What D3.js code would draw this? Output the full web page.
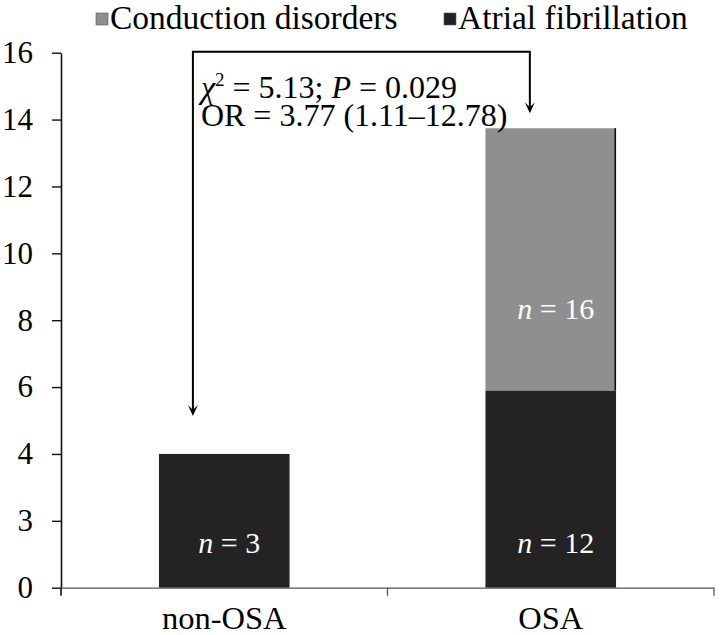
<!DOCTYPE html>
<html>
<head>
<meta charset="utf-8">
<script src="https://cdn.jsdelivr.net/npm/d3@7"></script>
<style>
  body { margin: 0; background: #fff; }
  svg { display: block; font-family: "Liberation Serif", "Times New Roman", serif; }
</style>
</head>
<body>
<div id="chartArea"></div>
<script>
// values
var categories = ['non-OSA', 'OSA'];
var atrialFibrillation = [4, 5.9];
var conductionDisorders = [0, 7.84];
var nAtrial = ['3', '12'];
var nConduction = ['', '16'];
var yTicks = [0, 2, 4, 6, 8, 10, 12, 14, 16];
var yTickLabels = ['0', '3', '4', '6', '8', '10', '12', '14', '16'];
var legendNames = ['Conduction disorders', 'Atrial fibrillation'];

var colors = {af: '#232323', cd: '#8f8f8f'};

var W = 722, H = 635;
var margin = {top: 52.7, left: 61, right: 8, bottom: 47.3};
var w = W - margin.left - margin.right,
    h = H - margin.top - margin.bottom;

var svg = d3.select('#chartArea').append('svg')
    .attr('width', W)
    .attr('height', H);

var g = svg.append('g')
    .attr('transform', 'translate(' + margin.left + ',' + margin.top + ')');

var x = d3.scaleBand()
    .domain(categories)
    .range([0, w])
    .paddingInner(0.6)
    .paddingOuter(0.3);

var y = d3.scaleLinear()
    .domain([0, 16])
    .range([h, 0]);

var rows = categories.map(function (c, i) {
    return {cat: c, af: atrialFibrillation[i], cd: conductionDisorders[i]};
});

var stack = d3.stack().keys(['af', 'cd'])(rows);

// bars
g.selectAll('g.layer')
    .data(stack)
    .enter()
    .append('g')
    .attr('class', 'layer')
    .attr('fill', function (d) { return colors[d.key]; })
    .selectAll('rect')
    .data(function (d) { return d; })
    .enter()
    .append('rect')
    .attr('x', function (d) { return x(d.data.cat); })
    .attr('y', function (d) { return y(d[1]); })
    .attr('width', x.bandwidth())
    .attr('height', function (d) { return y(d[0]) - y(d[1]); });

// dark edge on the right of the grey segment, as in the original
g.selectAll('line.edge')
    .data(stack[1].filter(function (d) { return d[1] > d[0]; }))
    .enter()
    .append('line')
    .attr('class', 'edge')
    .attr('x1', function (d) { return x(d.data.cat) + x.bandwidth() - 0.8; })
    .attr('x2', function (d) { return x(d.data.cat) + x.bandwidth() - 0.8; })
    .attr('y1', function (d) { return y(d[1]); })
    .attr('y2', function (d) { return y(d[0]); })
    .attr('stroke', '#111')
    .attr('stroke-width', 1.6);

// n labels inside bars
var labelOffsets = {af: 35, cd: 71};
var labelTexts = {af: nAtrial, cd: nConduction};
stack.forEach(function (layer) {
    layer.forEach(function (d, i) {
        var t = labelTexts[layer.key][i];
        if (!t) return;
        var txt = g.append('text')
            .attr('x', x(d.data.cat) + x.bandwidth() / 2 + 5)
            .attr('y', y(d[0]) - labelOffsets[layer.key])
            .attr('text-anchor', 'middle')
            .attr('fill', '#fff')
            .style('font-size', '30px');
        txt.append('tspan').style('font-style', 'italic').text('n');
        txt.append('tspan').text(' = ' + t);
    });
});

// y axis
var yAxis = d3.axisLeft(y)
    .tickValues(yTicks)
    .tickFormat(function (d, i) { return yTickLabels[i]; })
    .tickSize(9)
    .tickSizeOuter(0)
    .tickPadding(19);

var ya = g.append('g').call(yAxis).attr('font-family', null);
ya.select('.domain').attr('stroke', '#111').attr('stroke-width', 1.6);
ya.selectAll('.tick line').attr('stroke', '#111').attr('stroke-width', 1.4);
ya.selectAll('.tick text')
    .attr('fill', '#000')
    .style('font-size', '31px');

// x axis
var xAxis = d3.axisBottom(x).tickSize(0).tickSizeOuter(0).tickPadding(18.6);
var xa = g.append('g')
    .attr('transform', 'translate(0,' + h + ')')
    .call(xAxis)
    .attr('font-family', null);
xa.select('.domain').attr('stroke', '#555').attr('stroke-width', 1.3);
xa.selectAll('.tick text')
    .attr('fill', '#000')
    .style('font-size', '32.5px');

// category boundary ticks
var bounds = d3.range(categories.length + 1).map(function (i) { return i * x.step(); });
xa.selectAll('line.bound')
    .data(bounds)
    .enter()
    .append('line')
    .attr('class', 'bound')
    .attr('x1', function (d) { return d; })
    .attr('x2', function (d) { return d; })
    .attr('y1', 0)
    .attr('y2', 8)
    .attr('stroke', function (d, i) { return i === 0 ? '#111' : '#555'; })
    .attr('stroke-width', function (d, i) { return i === 0 ? 1.6 : 1.3; });

// bracket with arrows
var arrowFrac = [0.26, 0.34];   // where the arrow sits across each bar
var arrowGap = [38, 15];        // gap above each bar top
var totals = rows.map(function (r) { return r.af + r.cd; });
var ax = categories.map(function (c, i) { return x(c) + x.bandwidth() * arrowFrac[i]; });
var ay = totals.map(function (t, i) { return y(t) - arrowGap[i]; });
var topY = y(16) - 1;

g.append('path')
    .attr('d', 'M' + ax[0] + ',' + (ay[0] - 6) + 'V' + topY + 'H' + ax[1] + 'V' + (ay[1] - 6))
    .attr('fill', 'none')
    .attr('stroke', '#000')
    .attr('stroke-width', 2);

g.selectAll('path.head')
    .data(ax)
    .enter()
    .append('path')
    .attr('class', 'head')
    .attr('d', function (d, i) {
        var t = ay[i];
        return 'M' + d + ',' + t + 'L' + (d - 5) + ',' + (t - 11) + 'L' + d + ',' + (t - 6) +
            'L' + (d + 5) + ',' + (t - 11) + 'Z';
    })
    .attr('fill', '#000');

// statistics text
var statX = ax[0] + 8;
var line1 = g.append('text')
    .attr('x', statX)
    .attr('y', 98.3 - margin.top)
    .style('font-size', '32px');
line1.append('tspan').style('font-style', 'italic').text('\u03c7');
line1.append('tspan').attr('dy', -12).style('font-size', '19px').text('2');
line1.append('tspan').attr('dy', 12).text(' = 5.13; ');
line1.append('tspan').style('font-style', 'italic').text('P');
line1.append('tspan').text(' = 0.029');

g.append('text')
    .attr('x', statX)
    .attr('y', 126 - margin.top)
    .style('font-size', '32px')
    .text('OR = 3.77 (1.11\u201312.78)');

// legend
var legendX = [96, 444];
var legend = svg.selectAll('g.legend')
    .data(legendNames)
    .enter()
    .append('g')
    .attr('class', 'legend')
    .attr('transform', function (d, i) { return 'translate(' + legendX[i] + ',0)'; });

legend.append('rect')
    .attr('x', 0)
    .attr('y', 13)
    .attr('width', 12)
    .attr('height', 12)
    .attr('fill', function (d, i) { return i === 0 ? colors.cd : colors.af; })
    .attr('stroke', '#555')
    .attr('stroke-width', 0.6);

legend.append('text')
    .attr('x', 14)
    .attr('y', 29.3)
    .style('font-size', '33.5px')
    .text(function (d) { return d; });
</script>
</body>
</html>
